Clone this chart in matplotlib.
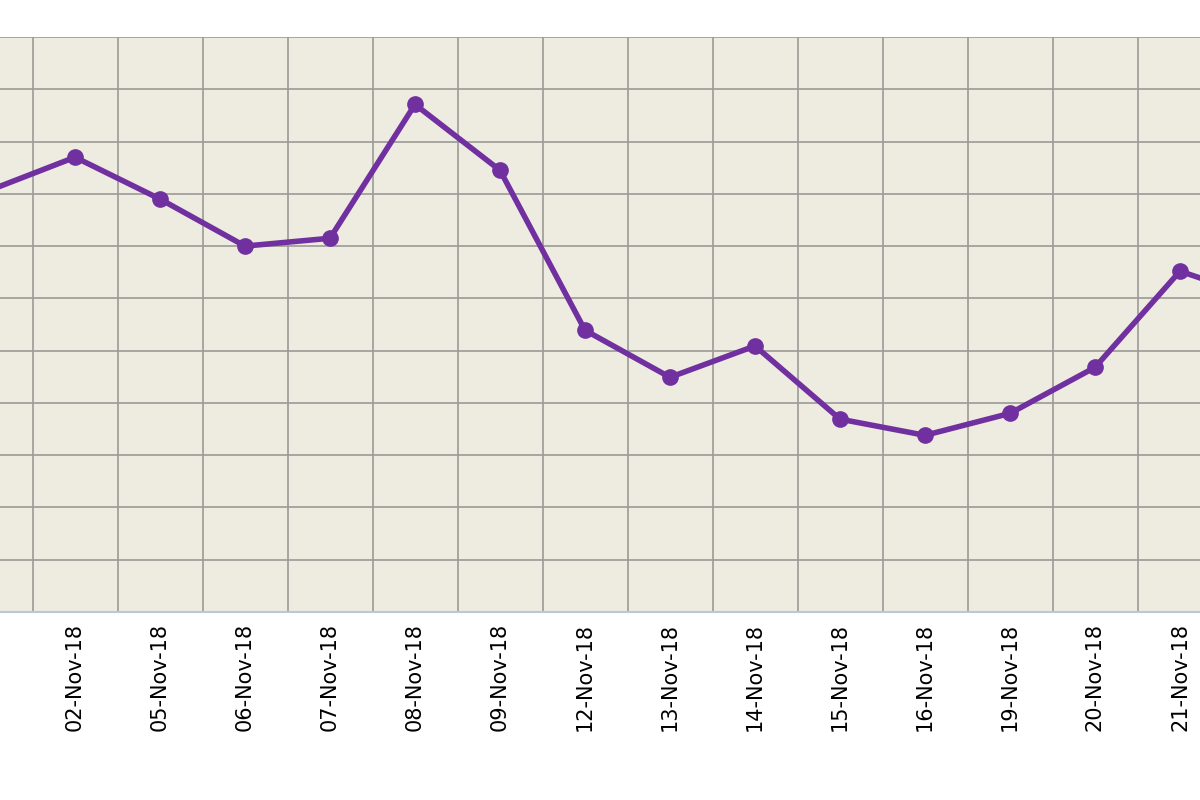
import matplotlib.pyplot as plt
import numpy as np

dates = ["01-Nov-18", "02-Nov-18", "05-Nov-18", "06-Nov-18", "07-Nov-18", "08-Nov-18",
         "09-Nov-18", "12-Nov-18", "13-Nov-18", "14-Nov-18", "15-Nov-18", "16-Nov-18",
         "19-Nov-18", "20-Nov-18", "21-Nov-18", "22-Nov-18"]
values = [8.07, 8.70, 7.90, 7.00, 7.15, 9.71, 8.45, 5.39, 4.49, 5.09, 3.69, 3.38,
          3.80, 4.68, 6.52, 5.97]

fig = plt.figure(figsize=(12, 8), dpi=100)
ax = fig.add_axes([0, 1 - 612 / 800, 1, (612 - 37) / 800])
ax.set_facecolor("#EEEBE0")

x = np.arange(len(dates))
ax.plot(x, values, color="#7030A0", lw=4, marker="o", ms=11, zorder=3)

ax.set_yticks(np.arange(0, 12, 1))
ax.set_yticklabels([])
ax.set_xticks(x + 0.5, minor=True)
ax.set_xticks(x)
ax.set_xticklabels(dates, rotation=90, fontsize=15)
ax.set_xlim(10 / 85, 1210 / 85)
ax.set_ylim(0, 11)
ax.tick_params(axis="both", which="both", length=0)
ax.tick_params(axis="x", pad=8)
ax.grid(True, which="minor", axis="x", color="#9a9a96", lw=1.2)
ax.grid(True, which="major", axis="y", color="#9a9a96", lw=1.2)
for s in ["top", "right", "left"]:
    ax.spines[s].set_visible(False)
ax.spines["bottom"].set_color("#b8c8d8")
ax.spines["bottom"].set_linewidth(1.5)

fig.savefig("out.png", dpi=100)
